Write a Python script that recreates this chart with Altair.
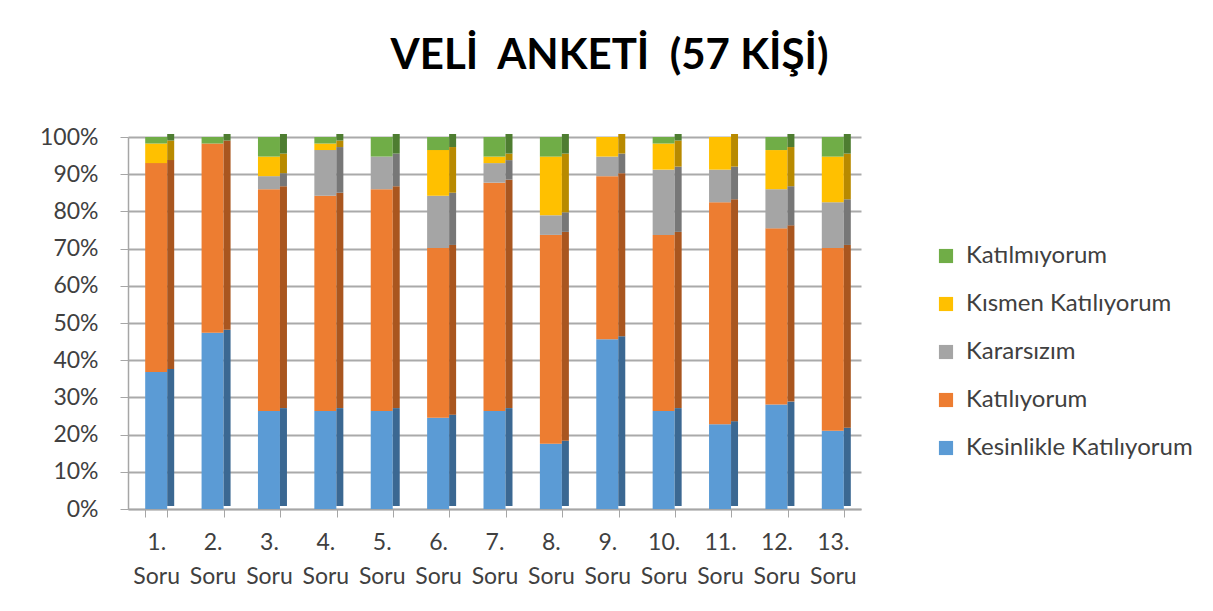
import altair as alt
import pandas as pd

questions = [f"{i}. Soru" for i in range(1, 14)]
series = ["Kesinlikle Katılıyorum", "Katılıyorum", "Kararsızım", "Kısmen Katılıyorum", "Katılmıyorum"]
kesinlikle = [21, 27, 15, 15, 15, 14, 15, 10, 26, 15, 13, 16, 12]
katiliyorum = [32, 29, 34, 33, 34, 26, 35, 32, 25, 27, 34, 27, 28]
kararsizim = [0, 0, 2, 7, 5, 8, 3, 3, 3, 10, 5, 6, 7]
kismen = [3, 0, 3, 1, 0, 7, 1, 9, 3, 4, 5, 6, 7]
katilmiyorum = [1, 1, 3, 1, 3, 2, 3, 3, 0, 1, 0, 2, 3]
colors = ["#5B9BD5", "#ED7D31", "#A5A5A5", "#FFC000", "#70AD47"]
side_colors = ["#3B6892", "#A9561F", "#777777", "#B88A00", "#4E7D31"]

rows = []
for s_i, (name, vals) in enumerate(zip(series, [kesinlikle, katiliyorum, kararsizim, kismen, katilmiyorum])):
    for q, v in zip(questions, vals):
        rows.append({"Soru": q, "Yanıt": name, "Sayı": v, "sira": s_i})
df = pd.DataFrame(rows)

font = "Lato"
legend_order = series[::-1]
y_values = [round(i / 10, 1) for i in range(11)]

x_axis = alt.Axis(labelAngle=0, labelExpr="split(datum.label, ' ')",
                  labelFontSize=23, labelLineHeight=34, labelPadding=14,
                  labelColor="#404040", labelFont=font,
                  domainColor="#a6a6a6", domainWidth=1.5,
                  tickColor="#a6a6a6", tickSize=8, tickBand="extent",
                  labelOverlap=False, grid=False)
y_axis = alt.Axis(format=".0%", values=y_values, labelOverlap=False,
                  labelFontSize=23, labelColor="#404040", labelFont=font,
                  labelPadding=22, domainColor="#a6a6a6", domainWidth=1.5,
                  tickColor="#a6a6a6", tickSize=8,
                  gridColor="#aaaaaa", gridWidth=1.8)

x_enc = alt.X("Soru:N", sort=questions, title=None, axis=x_axis)
y_enc = alt.Y("sum(Sayı):Q", stack="normalize", title=None,
              scale=alt.Scale(domain=[0, 1]), axis=y_axis)

front = alt.Chart(df).mark_bar(size=22).encode(
    x=x_enc,
    y=y_enc,
    color=alt.Color("Yanıt:N", scale=alt.Scale(domain=series, range=colors),
                    sort=legend_order,
                    legend=alt.Legend(title=None, orient="none", legendX=806, legendY=107,
                                      values=legend_order, labelLimit=0,
                                      symbolType="square", symbolSize=200, symbolStrokeWidth=0,
                                      labelFontSize=24, labelFont=font, labelColor="#404040",
                                      rowPadding=24, labelOffset=8)),
    order=alt.Order("sira:Q", sort="ascending"),
)

side = alt.Chart(df).mark_bar(size=7, xOffset=14.5, yOffset=-3).encode(
    x=x_enc,
    y=y_enc,
    color=alt.Color("Yanıt:N", scale=alt.Scale(domain=series, range=side_colors), legend=None),
    order=alt.Order("sira:Q", sort="ascending"),
)

title_text = "VELİ\u00a0\u00a0ANKETİ\u00a0\u00a0(57 KİŞİ)"

chart = alt.layer(front, side).resolve_scale(color="independent").properties(
    width=733, height=372,
    autosize=alt.AutoSizeParams(type="none"),
    padding={"left": 120, "top": 129, "right": 344, "bottom": 94},
    title=alt.TitleParams(title_text, fontSize=42, font=font, fontWeight="bold",
                          color="#000000", anchor="middle", dx=115, offset=48),
).configure_view(stroke=None).configure_scale(bandPaddingInner=0.6, bandPaddingOuter=0.3)

chart.save("out.html", embed_options={"renderer": "svg", "actions": False})
